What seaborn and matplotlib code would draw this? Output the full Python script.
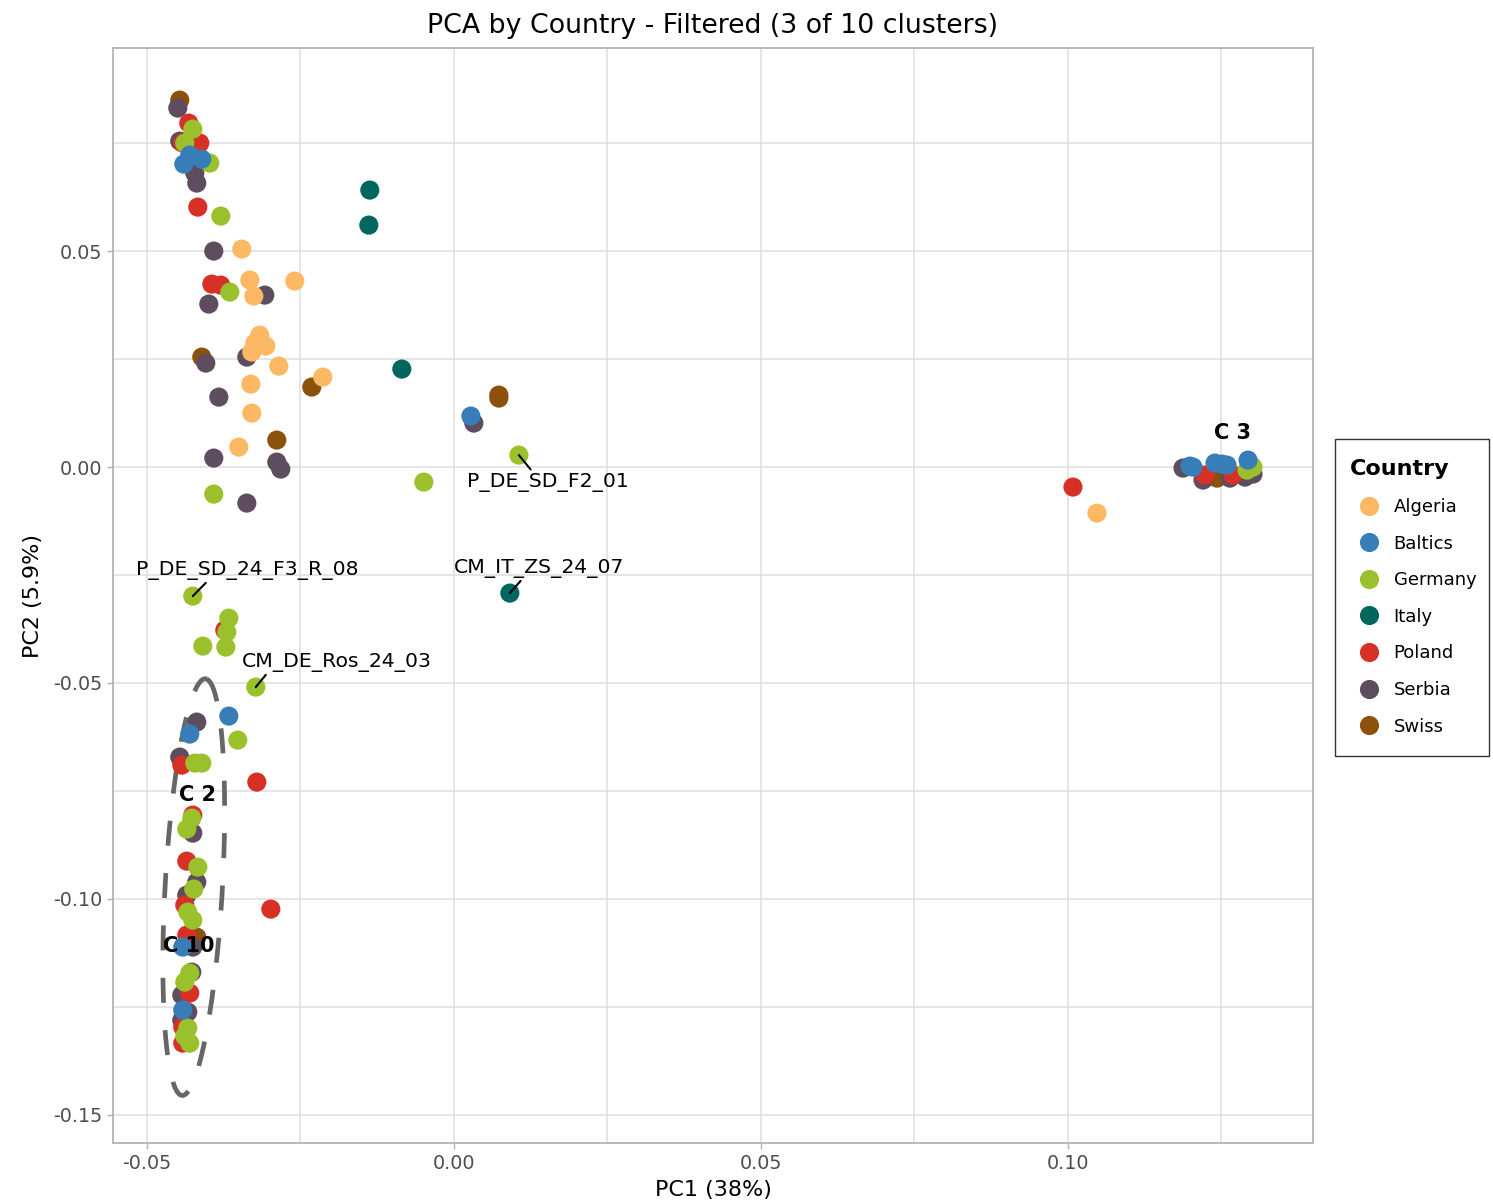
import numpy as np
import pandas as pd
import matplotlib
matplotlib.use("Agg")
import matplotlib.pyplot as plt
import seaborn as sns
from matplotlib.ticker import MultipleLocator, FormatStrFormatter
from matplotlib.patches import Rectangle

# ---------------- data ----------------
countries = ["Algeria", "Baltics", "Germany", "Italy", "Poland", "Serbia", "Swiss"]
country_colors = ["#FDB863", "#377EB8", "#9AC12B", "#01665E", "#D73027", "#5E4C5F", "#8C510A"]

algeria_pc1 = [-0.03453, -0.03322, -0.02590, -0.03257, -0.03160, -0.03062, -0.03241,
               -0.03290, -0.02850, -0.03306, -0.02134, -0.03290, -0.03502, 0.10472]
algeria_pc2 = [0.05051, 0.04333, 0.04310, 0.03962, 0.03058, 0.02804, 0.02873,
               0.02665, 0.02340, 0.01923, 0.02085, 0.01251, 0.00463, -0.01066]

baltics_pc1 = [-0.04397, -0.04300, -0.04104, 0.00277, -0.03664, -0.04300, -0.04414,
               -0.04414, 0.11987, 0.12036, 0.12394, 0.12508, 0.12590, 0.12932]
baltics_pc2 = [0.07020, 0.07229, 0.07136, 0.01182, -0.05769, -0.06186, -0.11121,
               -0.12581, 0.00023, 0.00000, 0.00093, 0.00070, 0.00046, 0.00162]

germany_pc1 = [-0.04251, -0.04381, -0.03974, -0.03795, -0.03648, -0.03909, -0.00489,
               0.01059, -0.04251, -0.03664, -0.03697, -0.03713, -0.04088, -0.03225,
               -0.03518, -0.04218, -0.04104, -0.04267, -0.04349, -0.04169, -0.04235,
               -0.04332, -0.04251, -0.04300, -0.04381, -0.04332, -0.04381, -0.04300,
               0.13013, 0.12915]
germany_pc2 = [0.07831, 0.07507, 0.07044, 0.05816, 0.04055, -0.00626, -0.00348,
               0.00278, -0.02989, -0.03499, -0.03823, -0.04171, -0.04147, -0.05097,
               -0.06325, -0.06858, -0.06858, -0.08133, -0.08387, -0.09268, -0.09777,
               -0.10310, -0.10496, -0.11724, -0.11932, -0.12998, -0.13184, -0.13346,
               0.00000, -0.00070]

italy_pc1 = [-0.01368, -0.01384, -0.00847, 0.00912]
italy_pc2 = [0.06418, 0.05607, 0.02271, -0.02919]

poland_pc1 = [-0.04316, -0.04137, -0.04414, -0.04169, -0.03941, -0.03795, -0.03730,
              -0.04430, -0.03208, -0.04251, -0.04349, -0.04381, -0.02980, -0.04349,
              -0.04300, -0.04414, -0.04414, 0.10081, 0.12231, 0.12687]
poland_pc2 = [0.07970, 0.07507, 0.07507, 0.06024, 0.04240, 0.04217, -0.03777,
              -0.06905, -0.07298, -0.08063, -0.09129, -0.10148, -0.10241, -0.10843,
              -0.12187, -0.12975, -0.13346, -0.00463, -0.00185, -0.00185]

serbia_pc1 = [-0.04495, -0.04463, -0.04218, -0.04186, -0.03909, -0.03078, -0.03990,
              -0.04039, -0.03371, -0.03827, -0.03909, -0.02883, -0.02818, -0.03371,
              0.00326, -0.04186, -0.04463, -0.04251, -0.04186, -0.04349, -0.04251,
              -0.04267, -0.04430, -0.04332, -0.04430, 0.11873, 0.12199, 0.12638,
              0.12883, 0.13013]
serbia_pc2 = [0.08318, 0.07553, 0.06812, 0.06580, 0.05005, 0.03985, 0.03777,
              0.02410, 0.02549, 0.01622, 0.00209, 0.00116, -0.00046, -0.00834,
              0.01019, -0.05908, -0.06719, -0.08480, -0.09615, -0.09917, -0.11121,
              -0.11701, -0.12234, -0.12627, -0.12813, -0.00023, -0.00301, -0.00255,
              -0.00232, -0.00162]

swiss_pc1 = [-0.04463, -0.04104, -0.02313, -0.02883, 0.00733, 0.00733, -0.04186, 0.12427]
swiss_pc2 = [0.08503, 0.02549, 0.01854, 0.00626, 0.01668, 0.01599, -0.10890, -0.00255]

# labelled samples: name, point, label position
sample_names = ["P_DE_SD_F2_01", "CM_IT_ZS_24_07", "P_DE_SD_24_F3_R_08", "CM_DE_Ros_24_03"]
sample_pc1 = [0.01059, 0.00912, -0.04251, -0.03225]
sample_pc2 = [0.00278, -0.02919, -0.02989, -0.05097]
sample_label_pc1 = [0.01531, 0.01384, -0.03371, -0.01906]
sample_label_pc2 = [-0.00350, -0.02340, -0.02387, -0.04518]

# cluster labels
cluster_names = ["C 3", "C 2", "C 10"]
cluster_pc1 = [0.12687, -0.04169, -0.04316]
cluster_pc2 = [0.00788, -0.07600, -0.11098]

# confidence ellipse (center and two conjugate half-axis vectors, data units)
ellipse_center = (-0.04235, -0.09731)
ellipse_axis_a = (0.00212, 0.04819)
ellipse_axis_b = (0.00456, -0.00278)

# ---------------- build table (drawing order) ----------------
series = {
    "Swiss": (swiss_pc1, swiss_pc2),
    "Serbia": (serbia_pc1, serbia_pc2),
    "Poland": (poland_pc1, poland_pc2),
    "Algeria": (algeria_pc1, algeria_pc2),
    "Italy": (italy_pc1, italy_pc2),
    "Germany": (germany_pc1, germany_pc2),
    "Baltics": (baltics_pc1, baltics_pc2),
}
frames = [pd.DataFrame({"PC1": xs, "PC2": ys, "Country": c}) for c, (xs, ys) in series.items()]
df = pd.concat(frames, ignore_index=True)
palette = dict(zip(countries, country_colors))

# ---------------- plot ----------------
sns.set_theme(style="whitegrid")
plt.rcParams["font.family"] = ["DejaVu Sans"]
plt.rcParams["axes.unicode_minus"] = False

fig = plt.figure(figsize=(14.93, 12.04), dpi=100)
ax = fig.add_axes([113 / 1493, 1 - 1143 / 1204, 1200 / 1493, 1095 / 1204])
ax.set_facecolor("white")

sns.scatterplot(data=df, x="PC1", y="PC2", hue="Country", hue_order=countries,
                palette=palette, s=190, linewidth=0, alpha=1, ax=ax, zorder=3)

# dashed ellipse
t = np.linspace(0, 2 * np.pi, 400)
ex = ellipse_center[0] + ellipse_axis_a[0] * np.cos(t) + ellipse_axis_b[0] * np.sin(t)
ey = ellipse_center[1] + ellipse_axis_a[1] * np.cos(t) + ellipse_axis_b[1] * np.sin(t)
ax.plot(ex, ey, color="#666666", lw=3.4, dashes=(5.3, 5.8), zorder=2.5,
        dash_capstyle="butt")

# sample labels with short leader segments (anchor on the label box)
label_anchor = [(0.41, 1.0), (0.41, 0.0), (0.33, 0.0), (0.14, 0.0)]
for name, x0, y0, tx, ty, rp in zip(sample_names, sample_pc1, sample_pc2,
                                    sample_label_pc1, sample_label_pc2, label_anchor):
    ax.annotate(name, xy=(x0, y0), xytext=(tx, ty), ha="center", va="center",
                fontsize=14.7, color="black", zorder=6,
                arrowprops=dict(arrowstyle="-", color="black", lw=1.5,
                                shrinkA=0, shrinkB=0, relpos=rp))

# cluster labels
for name, x0, y0 in zip(cluster_names, cluster_pc1, cluster_pc2):
    ax.text(x0, y0, name, ha="center", va="center", fontsize=15,
            fontweight="bold", color="black", zorder=7)

ax.set_xlim(-0.0555, 0.1399)
ax.set_ylim(-0.1566, 0.0971)
ax.xaxis.set_major_locator(MultipleLocator(0.05))
ax.xaxis.set_minor_locator(MultipleLocator(0.025))
ax.yaxis.set_major_locator(MultipleLocator(0.05))
ax.yaxis.set_minor_locator(MultipleLocator(0.025))
ax.xaxis.set_major_formatter(FormatStrFormatter("%.2f"))
ax.yaxis.set_major_formatter(FormatStrFormatter("%.2f"))
ax.grid(which="both", color="#DEDEDE", lw=1.1, zorder=0)
ax.set_axisbelow(True)
ax.tick_params(which="major", length=4, width=1, color="#B3B3B3",
               labelsize=13.8, labelcolor="#4D4D4D", pad=4, bottom=True, left=True)
ax.tick_params(which="minor", length=0)
for sp in ax.spines.values():
    sp.set_color("#B3B3B3")
    sp.set_linewidth(1.3)
    sp.set_visible(True)

ax.set_xlabel("PC1 (38%)", fontsize=16, labelpad=5, color="black")
ax.set_ylabel("PC2 (5.9%)", fontsize=16, labelpad=7, color="black")
ax.set_title("PCA by Country - Filtered (3 of 10 clusters)", fontsize=19.3, pad=11,
             color="black")

sns.move_legend(ax, "center left", bbox_to_anchor=(1335 / 1493, 1 - 597.5 / 1204),
                bbox_transform=fig.transFigure, title="Country", frameon=False,
                fontsize=13, title_fontproperties={"weight": "bold", "size": 16},
                labelspacing=1.03, handlelength=2.1, handletextpad=0.3, borderpad=0.85,
                borderaxespad=0, alignment="left", labelcolor="black")
leg = ax.get_legend()
leg.get_title().set_color("black")
for h in leg.legend_handles:
    if hasattr(h, "set_markersize"):
        h.set_markersize(13.8)
    elif hasattr(h, "set_sizes"):
        h.set_sizes([190])

# legend box frame
fig.patches.append(Rectangle((1335 / 1493, 1 - 756 / 1204), 154 / 1493, 317 / 1204,
                             transform=fig.transFigure, facecolor="none",
                             edgecolor="#333333", linewidth=1.0, zorder=5))

fig.savefig("out.png", dpi=100)
